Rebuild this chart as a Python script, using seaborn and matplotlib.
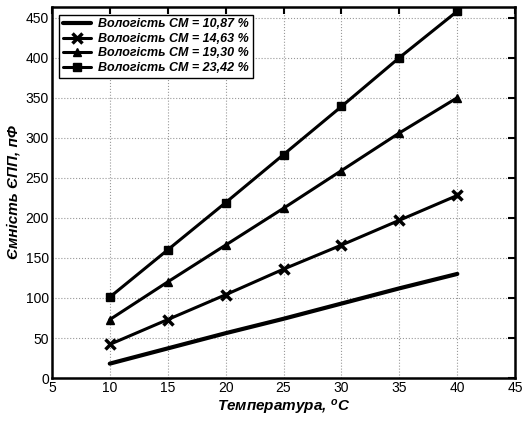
import pandas as pd
import matplotlib
matplotlib.use('Agg')
import matplotlib.pyplot as plt
import seaborn as sns

# data
temperature = [10, 15, 20, 25, 30, 35, 40]
cap_1087 = [18, 37, 56, 74, 93, 112, 130]
cap_1463 = [42, 73, 104, 136, 166, 197, 228]
cap_1930 = [73, 120, 166, 212, 259, 306, 350]
cap_2342 = [101, 160, 219, 279, 339, 400, 458]
labels = ['Вологість СМ = 10,87 %', 'Вологість СМ = 14,63 %',
          'Вологість СМ = 19,30 %', 'Вологість СМ = 23,42 %']
markers = [None, 'x', '^', 's']

sns.set_style('white')
plt.rcParams['font.family'] = ['Liberation Sans', 'DejaVu Sans']
plt.rcParams['text.color'] = 'black'
plt.rcParams['axes.labelcolor'] = 'black'
plt.rcParams['mathtext.fontset'] = 'custom'
plt.rcParams['mathtext.rm'] = 'Liberation Sans:italic:bold'
plt.rcParams['mathtext.it'] = 'Liberation Sans:italic:bold'

fig = plt.figure(figsize=(5.29, 4.21), dpi=100)
ax = fig.add_axes([0.098, 0.102, 0.876, 0.881])

for vals, lab, m in zip([cap_1087, cap_1463, cap_1930, cap_2342], labels, markers):
    df = pd.DataFrame({'T': temperature, 'C': vals})
    if m:
        kw = dict(marker=m, markersize=7 if m == 'x' else 6,
                  markeredgewidth=2.5 if m == 'x' else 1,
                  markeredgecolor='black', markerfacecolor='black')
    else:
        kw = {}
    lw = 3 if m is None else 2.2
    sns.lineplot(data=df, x='T', y='C', ax=ax, color='black', linewidth=lw,
                 linestyle='-', label=lab, **kw)

ax.set_xlim(5, 45)
ax.set_ylim(0, 463)
ax.set_xticks(range(5, 50, 5))
ax.set_yticks(range(0, 500, 50))
ax.tick_params(direction='in', length=5, width=1.5, top=True, right=True,
               labelsize=10, colors='black', pad=2)
ax.grid(True, linestyle=':', color='#999999', linewidth=0.8)
for s in ax.spines.values():
    s.set_linewidth(1.8)
    s.set_color('black')

ax.set_xlabel(r'Температура, $^{\mathrm{o}}$C', fontsize=11, fontweight='bold',
              fontstyle='italic', labelpad=2)
ax.set_ylabel('Ємність ЄПП, пФ', fontsize=11, fontweight='bold',
              fontstyle='italic', labelpad=4)

leg = ax.legend(loc='upper left', prop={'style': 'italic', 'weight': 'bold', 'size': 9},
                fancybox=False, framealpha=1, edgecolor='black', borderpad=0.3,
                labelspacing=0.2, handlelength=2.2, handletextpad=0.6,
                borderaxespad=0.6)
leg.get_frame().set_linewidth(1)

fig.savefig('out.png', dpi=100)
